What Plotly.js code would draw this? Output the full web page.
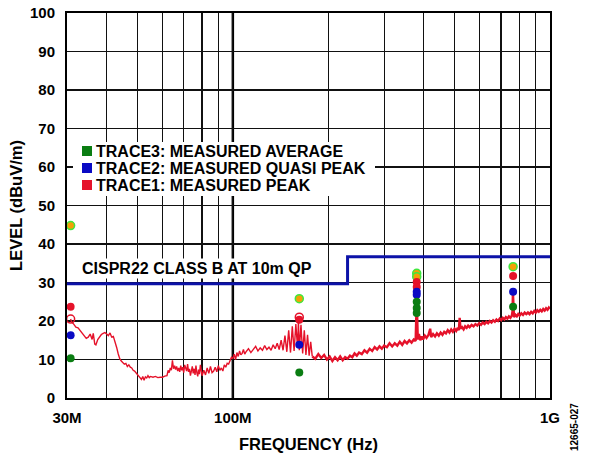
<!DOCTYPE html>
<html>
<head>
<meta charset="utf-8">
<script src="https://cdn.plot.ly/plotly-3.0.1.min.js"></script>
<style>html,body{margin:0;padding:0;background:#fff;}#chart{width:591px;height:453px;}</style>
</head>
<body>
<div id="chart"></div>
<script>
// Frequencies in MHz, levels in dBuV/m
// Measured peak sweep, low band (30M - 178M)
const lowFreq = [30.8,31,31.5,32,32.5,33,33.5,34,34.5,35,35.5,36,36.3,36.7,37,37.5,38,38.5,39,39.5,40,40.5,41,41.5,42,42.5,43,43.5,44,44.5,45,45.5,46,46.5,47,47.5,48,48.5,49,49.5,50,50.5,51,51.5,52,52.5,53,53.5,54,54.5,55,56,57,58,59,60,61,62,62.5,63,63.5,64,64.5,65,65.5,66,66.5,67,67.5,68,68.5,69,69.5,70,70.5,71,71.5,72,72.5,73,73.5,74,74.5,75,75.5,76,76.5,77,77.5,78,78.5,79,79.5,80,81,82,83,84,85,86,87,88,89,90,91,92,93,94,95,96,97,98,99,100,101,102,103,104,105,106,107,108,109,110,112,114,116,118,120,122,124,126,128,130,132,134,136,138,140,142,144,146,148,150,152,154,156,158,160,161,162,164,166,168,170,172,174,176,178];
const lowLevel = [20.5,19.8,19.2,18.4,18.2,17.5,16.8,16.2,15.5,15.8,16.6,15.2,16.8,14.0,13.8,15.2,16.0,16.5,16.8,17.0,16.6,16.2,16.9,15.8,16.0,14.8,13.2,11.5,10.2,9.6,9.2,8.8,9.0,8.2,8.6,8.0,7.8,7.2,7.0,6.6,6.2,5.8,5.4,4.8,5.6,4.6,5.5,5.2,5.8,5.3,5.6,5.4,5.6,5.3,5.4,5.4,5.7,5.8,7.2,6.6,7.8,7.2,9.8,7.6,8.4,7.4,8.2,7.0,7.8,6.8,8.4,7.2,8.0,6.6,8.6,7.4,7.0,8.8,6.8,7.6,5.8,7.0,8.2,6.4,7.6,6.0,8.4,6.6,5.6,7.4,6.2,8.6,6.8,5.8,7.2,6.0,7.8,6.4,8.2,6.6,7.0,8.0,6.8,8.4,7.2,7.8,7.0,8.6,8.0,9.0,8.8,9.8,10.6,10.2,11.4,10.0,11.8,10.8,12.2,11.2,11.6,12.6,11.4,12.0,12.8,11.8,12.6,13.4,12.2,13.0,12.4,13.6,12.6,13.2,12.4,13.8,12.8,14.2,12.6,15.0,12.4,16.2,12.0,17.6,11.8,18.6,12.2,19.2,13.0,20.0,12.4,19.0,11.6,17.6,11.2,16.4,11.0,14.6,10.8];
// Measured peak sweep, high band (178M - 1G)
const highFreq = [178,182,186,190,194,198,202,206,210,214,218,222,226,230,234,238,242,246,250,255,260,265,270,275,280,285,290,295,300,306,312,318,324,330,336,342,348,354,360,366,372,377,379,380,381,383,386,390,394,398,403,408,414,419,422,428,434,440,446,452,458,464,470,476,482,488,494,500,506,512,516,519,522,528,534,540,546,552,558,566,574,582,590,598,606,614,622,630,638,646,654,662,670,678,686,694,702,710,718,726,734,742,750,758,762,764,766,770,778,786,794,802,812,822,832,842,852,862,872,882,892,902,912,922,932,942,952,962,972,982,992,1000];
const highLevel = [10.8,10.2,11.4,10.4,11.2,10.0,10.8,9.6,10.6,9.8,10.8,9.8,10.6,10.2,11.0,10.6,11.6,11.0,11.8,11.4,12.4,11.8,12.8,12.2,13.2,12.6,13.4,12.8,13.6,13.2,14.2,13.4,14.2,13.6,14.6,13.8,14.8,14.2,15.0,14.4,15.2,14.8,22.0,30.2,22.0,15.2,16.6,15.0,16.0,15.2,16.2,15.6,16.4,18.0,15.8,16.6,16.0,16.8,16.2,17.0,16.4,17.2,16.8,17.6,17.0,17.8,17.2,18.0,17.4,18.2,17.6,20.8,18.0,18.4,17.8,18.6,18.2,18.8,18.4,19.0,18.6,19.2,18.8,19.4,19.0,19.6,19.2,19.8,19.4,20.0,19.6,20.2,19.8,20.4,20.0,20.6,20.2,20.8,20.4,21.0,20.6,21.2,20.8,21.4,22.6,27.4,22.6,21.0,21.6,21.2,21.8,21.4,22.0,21.6,22.2,21.8,22.2,21.8,22.4,22.0,22.6,22.2,22.8,22.4,22.9,22.5,23.1,22.7,23.3,22.9,23.5,23.2];

// Limit line (CISPR22 class B at 10m QP)
const limitFreq = [30, 230, 230, 1000];
const limitLevel = [29.7, 29.7, 36.7, 36.7];

// Measured points
const peakFreq = [30.8, 162, 380, 380, 765];
const peakLevel = [23.7, 20.3, 30.1, 28.8, 31.7];
const peakOpenFreq = [30.8, 162];
const peakOpenLevel = [20.5, 21.0];
const qpFreq = [30.8, 162, 380, 380, 765];
const qpLevel = [16.3, 13.8, 27.6, 26.8, 27.6];
const avgFreq = [30.8, 162, 380, 380, 380, 765];
const avgLevel = [10.3, 6.6, 25.0, 23.4, 22.1, 23.7];
const hiFreq = [30.8, 162, 380, 380, 765];
const hiLevel = [44.8, 25.8, 32.4, 31.5, 34.1];

const gridVals = [30,40,50,60,70,80,90,100,200,300,400,500,600,700,800,900,1000];
const gridText = ['30M','','','','','','','100M','','','','','','','','','1G'];

const legendNames = ['TRACE3: MEASURED AVERAGE','TRACE2: MEASURED QUASI PEAK','TRACE1: MEASURED PEAK'];
const legendColors = ['#0a7d12','#0a0ac4','#e5122a'];

const RED = '#e5122a', BLUE = '#0a0ac4', GREEN = '#0a7d12';
const FAM = 'Liberation Sans, Arial, sans-serif';
const F = {family: FAM, size: 15, color: '#000', weight: 700};
const FL = {family: FAM, size: 16, color: '#000', weight: 700};
const FT = {family: FAM, size: 16.5, color: '#000', weight: 700};

const data = [
  {x: limitFreq, y: limitLevel, mode: 'lines', line: {color: '#0c12a8', width: 3}, showlegend: false},
  {x: lowFreq, y: lowLevel, mode: 'lines', line: {color: RED, width: 1.4}, showlegend: false},
  {x: highFreq, y: highLevel, mode: 'lines', line: {color: RED, width: 2.4}, showlegend: false},
  {x: hiFreq, y: hiLevel, mode: 'markers', marker: {color: '#f3a006', size: 8, line: {color: '#3fe83f', width: 1.5}}, showlegend: false},
  {x: peakFreq, y: peakLevel, mode: 'markers', marker: {color: RED, size: 8}, showlegend: false},
  {x: peakOpenFreq, y: peakOpenLevel, mode: 'markers', marker: {color: RED, size: 8, symbol: 'circle-open', line: {width: 1.5}}, showlegend: false},
  {x: qpFreq, y: qpLevel, mode: 'markers', marker: {color: BLUE, size: 8}, showlegend: false},
  {x: avgFreq, y: avgLevel, mode: 'markers', marker: {color: GREEN, size: 8}, showlegend: false}
];

// plot area in pixels: left 67, width 483, top 13, height 385
const PW = 483, PH = 385, PL = 67, PB = 398;
const LOGSPAN = Math.log10(1000 / 30);
const px = v => (v - PL) / PW;
const py = v => (PB - v) / PH;
const dataX = v => 30 * Math.pow(10, (v - PL) / PW * LOGSPAN);
const dataY = v => (PB - v) / PH * 100;

const shapes = [
  {type: 'line', xref: 'x', yref: 'paper', x0: 100, x1: 100, y0: 0, y1: 1, line: {color: '#000', width: 2.5}, layer: 'below'},
  {type: 'rect', xref: 'x', yref: 'y', x0: dataX(73), x1: dataX(375), y0: dataY(196), y1: dataY(142),
   fillcolor: '#fff', line: {width: 0}, layer: 'between'}
];
const annotations = [
  {text: 'CISPR22 CLASS B AT 10m QP', xref: 'paper', yref: 'y', x: px(80), y: 33.6, xanchor: 'left', yanchor: 'middle',
   showarrow: false, bgcolor: '#fff', font: FL, borderpad: 1},
  {text: '12665-027', xref: 'paper', yref: 'paper', x: px(575), y: py(427), xanchor: 'center', yanchor: 'middle', textangle: -90,
   showarrow: false, font: {family: FAM, size: 10, color: '#000'}}
];
legendNames.forEach((n, i) => {
  const cy = 151 + i * 17;
  shapes.push({type: 'rect', xref: 'paper', yref: 'paper', x0: px(82), x1: px(92), y0: py(cy + 5), y1: py(cy - 5),
    fillcolor: legendColors[i], line: {width: 0}, layer: 'above'});
  annotations.push({text: n, xref: 'paper', yref: 'paper', x: px(95), y: py(cy), xanchor: 'left', yanchor: 'middle',
    showarrow: false, font: FL, borderpad: 0});
});

const layout = {
  width: 591, height: 453,
  margin: {l: 67, r: 41, t: 13, b: 55},
  paper_bgcolor: '#fff', plot_bgcolor: '#fff',
  font: F,
  showlegend: false,
  xaxis: {
    type: 'log', range: [Math.log10(30), 3],
    tickvals: gridVals, ticktext: gridText,
    showgrid: true, gridcolor: '#111', gridwidth: 1.3,
    showline: true, mirror: true, linecolor: '#000', linewidth: 2,
    ticks: '', ticklabelstandoff: 5, tickfont: F, zeroline: false, automargin: false,
    title: {text: 'FREQUENCY (Hz)', font: FT}
  },
  yaxis: {
    range: [0, 100], dtick: 10,
    showgrid: true, gridcolor: '#111', gridwidth: 1.3,
    showline: true, mirror: true, linecolor: '#000', linewidth: 2,
    ticks: '', ticklabelstandoff: 7, tickfont: F, zeroline: false, automargin: 'left',
    title: {text: 'LEVEL (dBuV/m)', font: FT, standoff: 3}
  },
  shapes: shapes,
  annotations: annotations
};

Plotly.newPlot('chart', data, layout, {displayModeBar: false, staticPlot: true});
</script>
</body>
</html>
